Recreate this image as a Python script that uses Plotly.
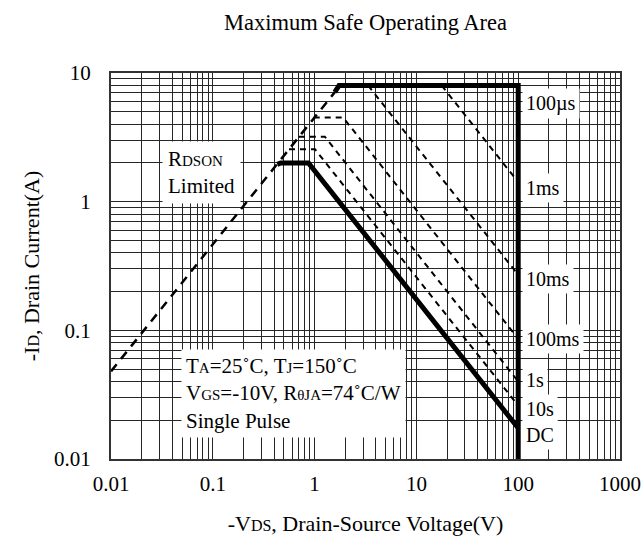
import plotly.graph_objects as go
import math

# ---- data ----
rdson_v = [0.01, 1.58]
rdson_i = [0.048, 7.1]

limit_v = [1.58, 1.74, 100, 100]
limit_i = [7.1, 8.0, 8.0, 0.01]

dc_v = [0.43, 0.465, 0.87, 100]
dc_i = [1.95, 2.0, 2.0, 0.0174]

p1ms_v = [17.7, 100]
p1ms_i = [8.0, 1.42]
p10ms_v = [3.35, 100]
p10ms_i = [8.0, 0.27]
p100ms_v = [0.98, 1.91, 100]
p100ms_i = [4.5, 4.5, 0.086]
p1s_v = [0.70, 1.26, 100]
p1s_i = [3.2, 3.2, 0.040]
p10s_v = [0.56, 1.01, 100]
p10s_i = [2.55, 2.55, 0.026]

curve_labels = ["100µs", "1ms", "10ms", "100ms", "1s", "10s", "DC"]
label_pos_i = [5.84, 1.28, 0.251, 0.0857, 0.0412, 0.0245, 0.0154]

x_tickvals = [0.01, 0.1, 1, 10, 100, 1000]
x_ticktext = ["0.01", "0.1", "1", "10", "100", "1000"]
y_tickvals = [0.01, 0.1, 1, 10]
y_ticktext = ["0.01", "0.1", "1", "10"]

FONT = "Liberation Serif"

fig = go.Figure()

dash_pulse = "6px,5px"
for v, i in [(p1ms_v, p1ms_i), (p10ms_v, p10ms_i), (p100ms_v, p100ms_i),
             (p1s_v, p1s_i), (p10s_v, p10s_i)]:
    fig.add_trace(go.Scatter(x=v, y=i, mode="lines",
                             line=dict(color="black", width=2, dash=dash_pulse),
                             showlegend=False, hoverinfo="skip"))

fig.add_trace(go.Scatter(x=rdson_v, y=rdson_i, mode="lines",
                         line=dict(color="black", width=2.5, dash="9px,7px"),
                         showlegend=False, hoverinfo="skip"))
fig.add_trace(go.Scatter(x=limit_v, y=limit_i, mode="lines",
                         line=dict(color="black", width=5),
                         showlegend=False, hoverinfo="skip"))
fig.add_trace(go.Scatter(x=dc_v, y=dc_i, mode="lines",
                         line=dict(color="black", width=5),
                         showlegend=False, hoverinfo="skip"))

x_minor = [m * 10 ** e for e in range(-2, 3) for m in range(2, 10)]
y_minor = [m * 10 ** e for e in range(-2, 1) for m in range(2, 10)]

GRID = "#262626"
fig.update_xaxes(type="log", range=[-2, 3], tickmode="array",
                 tickvals=x_tickvals, ticktext=x_ticktext,
                 showgrid=True, gridcolor=GRID, gridwidth=1,
                 minor=dict(tickmode="array", tickvals=x_minor, showgrid=True,
                            gridcolor=GRID, gridwidth=1, ticks=""),
                 showline=True, mirror=True, linecolor="#333", linewidth=2,
                 ticks="", ticklabelstandoff=5, zeroline=False, automargin=False,
                 tickfont=dict(family=FONT, size=21, color="black"),
                 title=dict(text="-V<span style='font-size:16px'>DS</span>, Drain-Source Voltage(V)",
                            font=dict(family=FONT, size=22, color="black"), standoff=20))
fig.update_yaxes(type="log", range=[-2, 1], tickmode="array",
                 tickvals=y_tickvals, ticktext=y_ticktext,
                 showgrid=True, gridcolor=GRID, gridwidth=1,
                 minor=dict(tickmode="array", tickvals=y_minor, showgrid=True,
                            gridcolor=GRID, gridwidth=1, ticks=""),
                 showline=True, mirror=True, linecolor="#333", linewidth=2,
                 ticks="", ticklabelstandoff=14, zeroline=False, automargin=False,
                 tickfont=dict(family=FONT, size=21, color="black"),
                 title=dict(text="-I<span style='font-size:16px'>D</span>, Drain Current(A)",
                            font=dict(family=FONT, size=22, color="black"), standoff=8))

annotations = []
for lab, yi in zip(curve_labels, label_pos_i):
    annotations.append(dict(x=2, y=math.log10(yi), xref="x", yref="y",
                            text=lab, showarrow=False, xanchor="left", yanchor="middle",
                            xshift=4, bgcolor="white", borderpad=3,
                            font=dict(family=FONT, size=20, color="black")))

S = "<span style='font-size:15px'>"
annotations.append(dict(x=-1.50, y=0.227, xref="x", yref="y",
                        text="R" + S + "DSON</span><br>Limited", align="left",
                        showarrow=False, xanchor="left", yanchor="middle",
                        bgcolor="white", borderpad=5,
                        font=dict(family=FONT, size=21, color="black")))
annotations.append(dict(x=-1.31, y=-1.494, xref="x", yref="y",
                        text="T" + S + "A</span>=25˚C, T" + S + "J</span>=150˚C<br>"
                             "V" + S + "GS</span>=-10V, R" + S + "θJA</span>=74˚C/W<br>"
                             "Single Pulse", align="left",
                        showarrow=False, xanchor="left", yanchor="middle",
                        bgcolor="white", borderpad=4,
                        font=dict(family=FONT, size=21, color="black")))

fig.update_layout(
    width=641, height=541,
    margin=dict(l=111, r=21, t=73, b=82),
    paper_bgcolor="white", plot_bgcolor="white",
    title=dict(text="Maximum Safe Operating Area", x=0.5, xref="paper",
               y=1 - 22 / 541, yref="container", yanchor="middle",
               font=dict(family=FONT, size=22.5, color="black")),
    annotations=annotations,
    showlegend=False,
)

fig.write_html("out.html", config={"displayModeBar": False},
               post_script="document.body.style.margin='0';")
